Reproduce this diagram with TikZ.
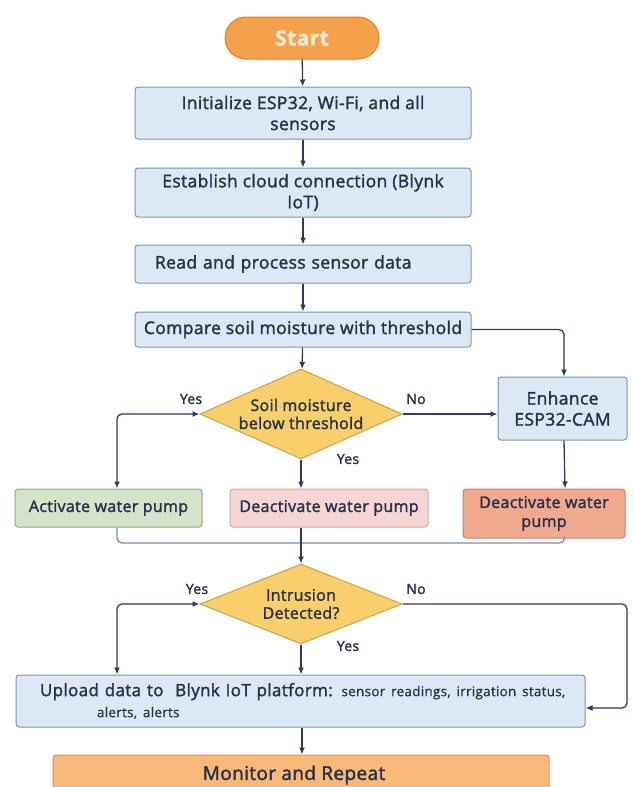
\documentclass[tikz,border=0pt]{standalone}
\usepackage{fontspec}
\setmainfont{Open Sans}[FakeBold=1.8, LetterSpace=2]
\newfontfamily\thinfont{Open Sans}[FakeBold=0.6, LetterSpace=2]
\usetikzlibrary{shapes.geometric,arrows.meta,calc}
\definecolor{boxfill}{HTML}{DCE9F5}
\definecolor{boxline}{HTML}{8094AC}
\definecolor{startfill}{HTML}{F5A04A}
\definecolor{startline}{HTML}{D9822B}
\definecolor{starttxt}{HTML}{FDEAD2}
\definecolor{decfill}{HTML}{F8CF6A}
\definecolor{decline}{HTML}{C9A54A}
\definecolor{actfill}{HTML}{D6E3CB}
\definecolor{actline}{HTML}{93A885}
\definecolor{dmfill}{HTML}{F6D6D4}
\definecolor{dmline}{HTML}{D4A8A5}
\definecolor{drfill}{HTML}{F0A98F}
\definecolor{drline}{HTML}{C98470}
\definecolor{monfill}{HTML}{F8B878}
\definecolor{monline}{HTML}{D9965A}
\definecolor{arr}{HTML}{2F3A5C}
\definecolor{merge}{HTML}{7F8CA6}
\definecolor{txt}{HTML}{27324A}
\newcommand{\fsz}[2]{\fontsize{#1}{#2}\selectfont}
\begin{document}
\begin{tikzpicture}[x=1pt,y=-1pt,
  every node/.style={text=txt},
  procbox/.style={draw=boxline, fill=boxfill, rounded corners=3pt, line width=1pt,
    minimum width=336pt, align=center, font=\fsz{17.5}{21}, inner sep=1pt},
  actbox/.style={procbox, font=\fsz{16}{19}},
  decbox/.style={draw=decline, fill=decfill, line width=1pt, shape=diamond, aspect=2.2,
    inner sep=-8pt, minimum width=202pt, minimum height=90pt, align=center, font=\fsz{16}{18}},
  lbl/.style={font=\fsz{14}{16}, inner sep=0pt},
  flow/.style={draw=arr, line width=1.3pt, -{Latex[length=7pt,width=6pt]}},
  flowboth/.style={draw=arr, line width=1.3pt, {Latex[length=7pt,width=6pt]}-{Latex[length=7pt,width=6pt]}},
  mergeline/.style={draw=merge, line width=1.3pt, rounded corners=5pt}]
\useasboundingbox (0,0) rectangle (634,787);
\fill[white] (0,0) rectangle (634,787);

% nodes
\node[draw=startline, fill=startfill, rounded corners=21pt, line width=1pt,
  minimum width=154pt, minimum height=42pt, font=\fsz{21}{24}\bfseries, text=starttxt] (start) at (302,38) {Start};
\node[procbox, minimum height=52pt] (init) at (303,113) {Initialize ESP32, Wi-Fi, and all\\sensors};
\node[procbox, minimum height=49pt] (cloud) at (303,192.5) {Establish cloud connection (Blynk\\IoT)};
\node[procbox, minimum height=38pt, text width=310pt, inner xsep=13pt, align=left] (read) at (303,264) {\hspace*{7pt}Read and process sensor data};
\node[procbox, minimum height=35pt] (comp) at (303,329.5) {Compare soil moisture with threshold};

\node[decbox] (d1) at (301,414) {Soil moisture\\below threshold};
\node[procbox, minimum width=129pt, minimum height=63pt] (enh) at (562.5,408.5) {Enhance\\ESP32-CAM};

\node[actbox, draw=actline, fill=actfill, minimum width=187pt, minimum height=38pt] (act) at (108.5,508) {Activate water pump};
\node[actbox, draw=dmline, fill=dmfill, minimum width=198pt, minimum height=38pt] (dm) at (329,508) {Deactivate water pump};
\node[actbox, draw=drline, fill=drfill, minimum width=162pt, minimum height=49pt] (dr) at (544,513.5) {Deactivate water\\pump};

\node[decbox, minimum height=80pt] (d2) at (301,604) {Intrusion\\Detected?};

\node[procbox, minimum width=569pt, minimum height=52pt, text width=545pt, inner xsep=12pt, align=left] (up) at (300.5,701)
  {\hspace*{12pt}\fsz{17}{24}Upload data to \ Blynk IoT platform: {\thinfont\fsz{13.5}{24}sensor readings, irrigation status,}\\
   \hspace*{69pt}{\thinfont\fsz{13.5}{24}alerts, alerts}};
\node[procbox, draw=monline, fill=monfill, minimum width=496pt, minimum height=40pt, font=\fsz{19}{22}] (mon) at (301,775) {\hspace*{-14pt}Monitor and Repeat};

% labels
\node[lbl] (y1) at (191,399) {Yes};
\node[lbl] (n1) at (416,399) {No};
\node[lbl] (y1b) at (348,459) {Yes};
\node[lbl] (y2) at (197,589) {Yes};
\node[lbl] (n2) at (416,589) {No};
\node[lbl] (y2b) at (348,646) {Yes};

% coordinates for routing
\coordinate (actin) at ($(act.north)+(8.5,0)$);
\coordinate (actout) at ($(act.south)+(8.5,0)$);
\coordinate (drout) at ($(dr.south)+(20.5,0)$);
\coordinate (enhin) at ($(enh.north)+(1.5,0)$);
\coordinate (drin) at ($(dr.north)+(21,0)$);
\coordinate (mergey) at (0,543);
\coordinate (upin) at ($(up.north)+(-183.5,0)$);
\coordinate (rightx) at (627,0);
\coordinate (upright) at (0,708);

% connectors
\draw[flow] (start) -- (init);
\draw[flow] (init) -- (cloud);
\draw[flow] (cloud) -- (read);
\draw[flow] (read) -- (comp);
\draw[flow] (comp) -- (d1);
\draw[flow, rounded corners=5pt] (comp.east) -| (enhin);
\draw[flow] (d1.east) -- (d1.east -| enh.west);
\draw[flowboth, rounded corners=5pt] (d1.west) -| (actin);
\draw[flow] (d1.south) -- (d1.south |- dm.north);
\draw[flow] (enhin |- enh.south) -- (drin);

\draw[mergeline] (actout) |- (mergey -| drout) -- (drout);
\draw[flow] (dm.south -| d2.north) -- (d2.north);

\draw[flowboth, rounded corners=5pt] (d2.west) -| (upin);
\draw[flow] (d2.south) -- (d2.south |- up.north);
\draw[flow, rounded corners=5pt] (d2.east) -| (rightx |- upright) -- (upright -| up.east);
\draw[flow] (up.south -| 302,0) -- (mon.north -| 302,0);
\end{tikzpicture}
\end{document}
